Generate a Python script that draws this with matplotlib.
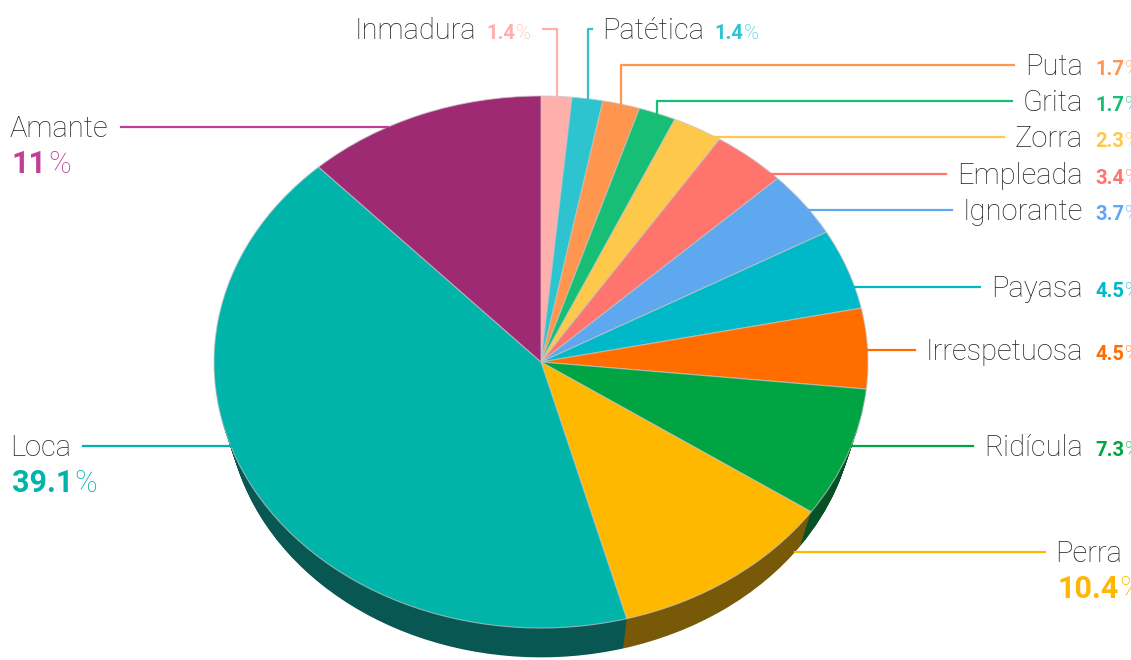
import numpy as np
import matplotlib
matplotlib.use('Agg')
import matplotlib.pyplot as plt
from matplotlib.colors import to_rgb

# Shares (%) per word, clockwise from 12 o'clock
labels = ['Inmadura', 'Patética', 'Puta', 'Grita', 'Zorra', 'Empleada',
          'Ignorante', 'Payasa', 'Irrespetuosa', 'Ridícula', 'Perra', 'Loca',
          'Amante']
values = [1.4, 1.4, 1.7, 1.7, 2.3, 3.4, 3.7, 4.5, 4.5, 7.3, 10.4, 39.1, 11]
colors = ['#FFB0AC', '#2EC4CF', '#FF964F', '#17BE76', '#FEC84A', '#FF756E',
          '#5EA8F0', '#00B9C8', '#FF6D00', '#00A443', '#FFB800', '#00B4AA',
          '#9E2A73']

# where each label sits: kind, row of the leader line (px)
placement = {
    'Inmadura': ('top_left', 29),
    'Patética': ('top_right', 29),
    'Puta': ('right_elbow', 65),
    'Grita': ('right_elbow', 101),
    'Zorra': ('right', 137),
    'Empleada': ('right', 174),
    'Ignorante': ('right', 210),
    'Payasa': ('right', 287),
    'Irrespetuosa': ('right', 350),
    'Ridícula': ('right', 446),
    'Perra': ('stack_right', 552),
    'Loca': ('stack_left', 446),
    'Amante': ('stack_left', 127),
}

W, H = 1131, 660
cx, cy, rx, ry = 541, 362, 327, 266   # top face ellipse (px)
depth = 40                            # base shifted down by this much
shrink = 0.96                         # base drawn a bit smaller

fig = plt.figure(figsize=(W / 100, H / 100), dpi=100)

# pie in its own axes, squashed into an ellipse
pax = fig.add_axes([0, 0, 1, 1])
side_colors = [tuple(min(1, c * 0.44 + 0.03) for c in to_rgb(col))
               for col in colors]
n_layers = 36
for k in range(n_layers, 0, -1):
    t = k / n_layers
    pax.pie(values, colors=side_colors, startangle=90, counterclock=False,
            radius=1 - (1 - shrink) * t, center=(0, -depth * t / ry),
            wedgeprops=dict(linewidth=0))
pax.pie(values, colors=colors, startangle=90, counterclock=False, radius=1,
        wedgeprops=dict(linewidth=0.8, edgecolor=(0.78, 0.78, 0.78, 0.7)))
pax.set_aspect('auto')
pax.set_xlim(-cx / rx, (W - cx) / rx)
pax.set_ylim((cy - H) / ry, cy / ry)
pax.axis('off')

# overlay in pixel coordinates for labels and leader lines
ax = fig.add_axes([0, 0, 1, 1])
ax.set_xlim(0, W)
ax.set_ylim(H, 0)
ax.axis('off')
ax.patch.set_alpha(0)

renderer = fig.canvas.get_renderer()


def text_w(t):
    return t.get_window_extent(renderer).width


def half_width(py):
    # half width of the pie outline (top face or base) at row py
    w = 0
    for ecy, erx, ery in ((cy, rx, ry), (cy + depth, rx * shrink, ry * shrink)):
        u = (py - ecy) / ery
        if abs(u) < 1:
            w = max(w, erx * np.sqrt(1 - u * u))
    return w


def name_text(x, y, s, ha='left'):
    return ax.text(x, y + 10, s, fontsize=21, family='Roboto',
                   fontweight='light', color='#262626', ha=ha, va='baseline')


def value_text(x, y, v, color, size, ha='left'):
    num = ax.text(x, y + 10, f'{v:g}', fontsize=size, family='Roboto',
                  fontweight='bold', color=color, va='baseline')
    pct = ax.text(x, y + 10, '%', fontsize=size, family='Roboto',
                  fontweight='light', color=color, va='baseline')
    wn, wp = text_w(num), text_w(pct)
    x0 = x - wn - wp - 1 if ha == 'right' else x
    num.set_x(x0)
    pct.set_x(x0 + wn + 1)
    return x0


total = sum(values)
ends = np.cumsum(values) / total
mids = (ends - np.array(values) / total / 2) * 2 * np.pi
lw = 1.6

for name, v, col, ang in zip(labels, values, colors, mids):
    kind, y = placement[name]
    lcol = '#C23E97' if name == 'Amante' else col
    if kind in ('right', 'right_elbow'):
        t = name_text(1083, y, name, ha='right')
        value_text(1095, y, v, lcol, 14.5)
        x_end = 1083 - text_w(t) - 11
        if kind == 'right':
            ax.plot([cx + half_width(y), x_end], [y, y], color=lcol, lw=lw)
        else:
            ex = cx + rx * np.sin(ang)
            ey = cy - ry * np.cos(ang)
            ax.plot([ex, ex, x_end], [ey, y, y], color=lcol, lw=lw)
    elif kind == 'top_left':
        x0 = value_text(531, y, v, lcol, 14.5, ha='right')
        name_text(x0 - 10, y, name, ha='right')
        ex = cx + rx * np.sin(ang)
        ey = cy - ry * np.cos(ang)
        ax.plot([543, ex, ex], [y, y, ey], color=lcol, lw=lw)
    elif kind == 'top_right':
        t = name_text(602, y, name)
        value_text(602 + text_w(t) + 10, y, v, lcol, 14.5)
        ex = cx + rx * np.sin(ang)
        ey = cy - ry * np.cos(ang)
        ax.plot([ex, ex, 592], [ey, y, y], color=lcol, lw=lw)
    elif kind == 'stack_left':
        t = name_text(10, y, name)
        value_text(12, y + 36, v, lcol, 22)
        ax.plot([10 + text_w(t) + 12, cx - half_width(y)], [y, y],
                color=lcol, lw=lw)
    elif kind == 'stack_right':
        name_text(1055, y, name)
        value_text(1057, y + 36, v, lcol, 22)
        ax.plot([cx + half_width(y), 1045], [y, y], color=lcol, lw=lw)

fig.savefig('out.png', dpi=100)
